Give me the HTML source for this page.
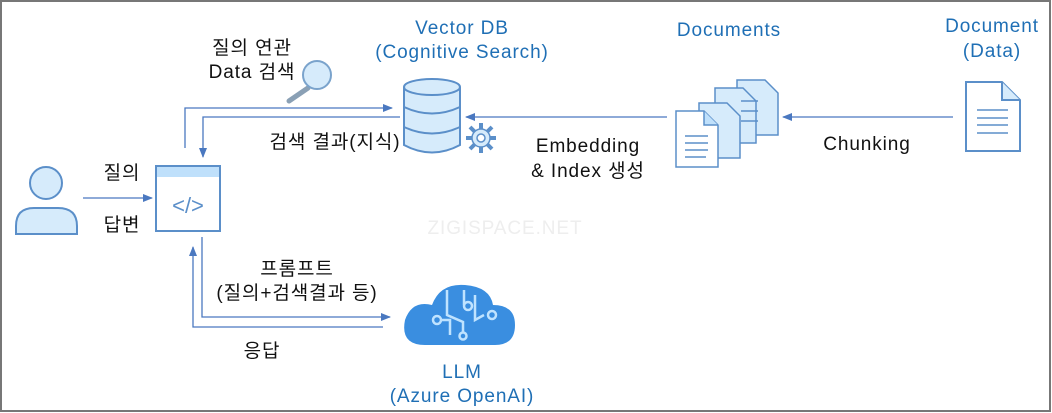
<!DOCTYPE html>
<html><head><meta charset="utf-8"><style>
html,body{margin:0;padding:0;background:#fff;}
svg{display:block}
text{font-family:"Liberation Sans","Noto Sans CJK KR",sans-serif;font-size:19px;letter-spacing:0.9px;fill:#111;text-anchor:middle}
.b{fill:#1f6fb5}
</style></head><body>
<svg width="1052" height="413" viewBox="0 0 1052 413">
<defs>
<marker id="a" markerWidth="10" markerHeight="8" refX="9" refY="4" orient="auto" markerUnits="userSpaceOnUse"><path d="M0,0 L10,4 L0,8 Z" fill="#4a78c0"/></marker>
</defs>
<rect x="1" y="1" width="1049" height="410" fill="#fff" stroke="#777" stroke-width="2"/>
<g stroke="#4a78c0" stroke-width="1.3" fill="none">
<path d="M83 198 H152" marker-end="url(#a)"/>
<path d="M185 148 V108 H392" marker-end="url(#a)"/>
<path d="M400 117 H203 V157" marker-end="url(#a)"/>
<path d="M667 117 H466" marker-end="url(#a)"/>
<path d="M953 117 H783" marker-end="url(#a)"/>
<path d="M202 237 V317 H390" marker-end="url(#a)"/>
<path d="M383 327 H193 V247" marker-end="url(#a)"/>
</g>
<g fill="#d6ebfb" stroke="#5b8fc9" stroke-width="2">
<circle cx="46" cy="183" r="16"/>
<path d="M16 234 V226 Q16 208 34 208 H58 Q77 208 77 226 V234 Z"/>
</g>
<rect x="156" y="166" width="64" height="65" fill="#fff" stroke="#5b8fc9" stroke-width="2"/>
<rect x="157" y="167" width="62" height="10" fill="#bfe0fb"/>
<text x="188" y="213" style="font-size:22px;fill:#5b8fc9;letter-spacing:0">&lt;/&gt;</text>
<line x1="308" y1="88" x2="289" y2="101" stroke="#8aa0b5" stroke-width="5" stroke-linecap="round"/>
<circle cx="317" cy="75" r="14" fill="#d6ebfb" stroke="#7aa3cc" stroke-width="2"/>
<g fill="#d6ebfb" stroke="#5b8fc9" stroke-width="2">
<path d="M404 87 V145 Q432 160 460 145 V87"/>
<ellipse cx="432" cy="87" rx="28" ry="8"/>
<path d="M404 107 Q432 120 460 107 M404 127 Q432 140 460 127" fill="none"/>
</g>
<g stroke="#5b8fc9" stroke-width="4">
<path d="M481 123 V153 M466 138 H496 M470 127 L492 149 M492 127 L470 149"/>
</g>
<circle cx="481" cy="138" r="9" fill="#d6ebfb" stroke="#5b8fc9" stroke-width="1.5"/>
<circle cx="481" cy="138" r="4" fill="#fff" stroke="#5b8fc9" stroke-width="1.5"/>
<g stroke="#5b8fc9" stroke-width="1.5" fill="#d6ebfb">
<path d="M737 80 H765 L778 93 V135 H737 Z"/>
<path d="M715 88 H743 L756 101 V143 H715 Z"/>
<path d="M699 103 H727 L740 116 V158 H699 Z"/>
<path d="M676 111 H704 L718 125 V167 H676 Z" fill="#fff"/>
<path d="M704 111 V125 H718" fill="#bfe0fb"/>
<path d="M685 136 H708 M685 143 H708 M685 150 H708 M685 157 H706 M741 101 H758 M741 111 H758 M741 121 H758" fill="none"/>
</g>
<g stroke="#5b8fc9" stroke-width="2" fill="#fff">
<path d="M966 82 H1002 L1020 100 V151 H966 Z"/>
<path d="M1002 82 V100 H1020" fill="#d6ebfb"/>
<path d="M977 110 H1008 M977 118 H1008 M977 125 H1008 M977 133 H1008" stroke-width="1.5"/>
</g>
<path d="M425 345 Q400 345 405 320 Q412 300 432 305 Q440 283 465 285 Q490 287 493 305 Q515 305 515 325 Q515 345 495 345 Z" fill="#3a8ee0"/>
<g stroke="#bfe3ff" stroke-width="2.5" fill="none">
<path d="M447 290 V315 L463 322 V333"/><circle cx="463" cy="336" r="3.5"/>
<path d="M464 290 V305"/><circle cx="468" cy="306" r="4"/>
<circle cx="437" cy="320" r="4"/><path d="M441 320 H450 V335"/>
<path d="M475 295 V320 L484 315"/><circle cx="492" cy="315" r="4"/>
</g>
<text x="122" y="179">질의</text>
<text x="122" y="231">답변</text>
<text x="252" y="54">질의 연관</text>
<text x="252" y="78">Data 검색</text>
<text x="335" y="148">검색 결과(지식)</text>
<text x="462" y="34" class="b">Vector DB</text>
<text x="462" y="58" class="b">(Cognitive Search)</text>
<text x="729" y="36" class="b">Documents</text>
<text x="992" y="32" class="b">Document</text>
<text x="992" y="57" class="b">(Data)</text>
<text x="588" y="152">Embedding</text>
<text x="588" y="177">&amp; Index 생성</text>
<text x="867" y="150">Chunking</text>
<text x="505" y="234" style="fill:#eeeeee">ZIGISPACE.NET</text>
<text x="297" y="275">프롬프트</text>
<text x="297" y="299">(질의+검색결과 등)</text>
<text x="262" y="357">응답</text>
<text x="462" y="378" class="b">LLM</text>
<text x="462" y="402" class="b">(Azure OpenAI)</text>
</svg>
</body></html>
